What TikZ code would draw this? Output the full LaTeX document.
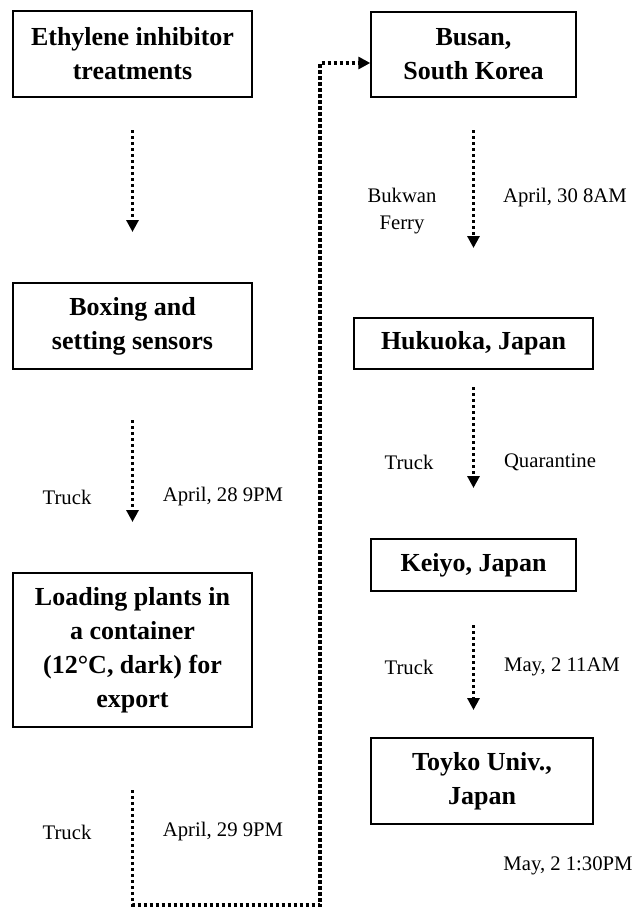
\documentclass[tikz,border=0pt]{standalone}
\usepackage{fontspec}
\setmainfont{Liberation Serif}
\usetikzlibrary{arrows.meta}
\begin{document}
\begin{tikzpicture}[x=1pt,y=-1pt,
  box/.style={draw, line width=1.4pt, align=center, inner sep=0pt,
    font=\fontsize{26}{34}\selectfont\bfseries},
  lab/.style={inner sep=0pt, align=center, font=\fontsize{20.7}{27}\selectfont},
  dotline/.style={line width=3.6pt, dash pattern=on 3.4pt off 2.6pt},
  dotarrow/.style={dotline, -{Triangle[width=12pt,length=12pt]}}]
\useasboundingbox (0,0) rectangle (635,910);
% boxes
\node[box, minimum width=239pt, minimum height=86pt] (b1) at (132.5,54) {Ethylene inhibitor\\treatments};
\node[box, minimum width=239pt, minimum height=86pt] (b2) at (132.5,326) {Boxing and\\setting sensors};
\node[box, minimum width=239pt, minimum height=154pt] (b3) at (132.5,650) {Loading plants in\\a container\\(12°C, dark) for\\export};
\node[box, minimum width=205pt, minimum height=85pt] (b4) at (473.5,54.5) {Busan,\\South Korea};
\node[box, minimum width=239pt, minimum height=51pt] (b5) at (473.5,343.5) {Hukuoka, Japan};
\node[box, minimum width=205pt, minimum height=52pt] (b6) at (473.5,565) {Keiyo, Japan};
\node[box, minimum width=222pt, minimum height=86pt] (b7) at (482,781) {Toyko Univ.,\\Japan};
% arrow coordinates
\coordinate (a1s) at (132.5,130); \coordinate (a1e) at (132.5,232);
\coordinate (a2s) at (132.5,420); \coordinate (a2e) at (132.5,522);
\coordinate (a3s) at (132.5,790); \coordinate (c1) at (132.5,905);
\coordinate (c2) at (320,905); \coordinate (c3) at (320,63);
\coordinate (a3e) at (b4.west |- c3);
\coordinate (a4s) at (473.5,130); \coordinate (a4e) at (473.5,248);
\coordinate (a5s) at (473.5,387); \coordinate (a5e) at (473.5,488);
\coordinate (a6s) at (473.5,625); \coordinate (a6e) at (473.5,710);
% connectors
\draw[dotarrow] (a1s) -- (a1e);
\draw[dotarrow] (a2s) -- (a2e);
\draw[dotarrow] (a3s) -- (c1) -- (c2) -- (c3) -- (a3e);
\draw[dotarrow] (a4s) -- (a4e);
\draw[dotarrow] (a5s) -- (a5e);
\draw[dotarrow] (a6s) -- (a6e);
% labels
\node[lab] (l1) at (67,497) {Truck};
\node[lab] (l2) at (223,497) {April, 28 9PM};
\node[lab] (l3) at (67,832) {Truck};
\node[lab] (l4) at (223,832) {April, 29 9PM};
\node[lab] (l5) at (402,211) {Bukwan\\Ferry};
\node[lab] (l6) at (565,198) {April, 30 8AM};
\node[lab] (l7) at (409,462) {Truck};
\node[lab] (l8) at (550,462) {Quarantine};
\node[lab] (l9) at (409,667) {Truck};
\node[lab] (l10) at (562,667) {May, 2 11AM};
\node[lab] (l11) at (568,866) {May, 2 1:30PM};
\end{tikzpicture}
\end{document}
